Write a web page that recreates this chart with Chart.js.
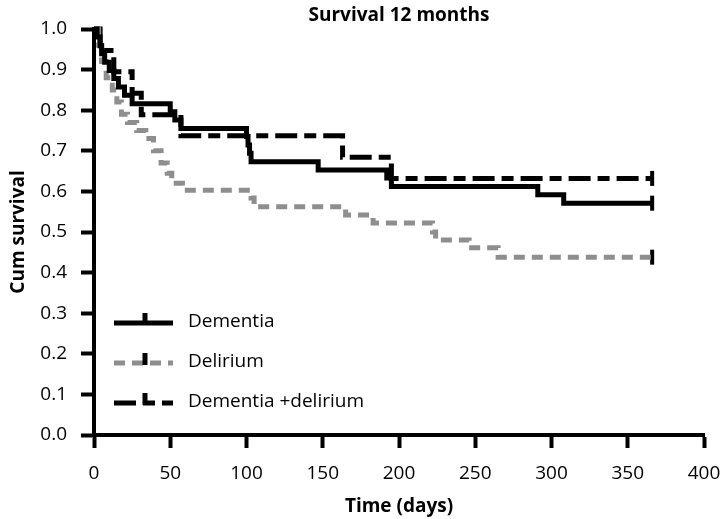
<!DOCTYPE html>
<html lang="en">
<head>
    <meta charset="UTF-8">
    <title>Survival 12 months</title>
    <script src="https://cdn.jsdelivr.net/npm/chart.js"></script>
    <style>
        html, body { margin: 0; padding: 0; background: #fff; }
        #chart-container { width: 721px; height: 519px; }
    </style>
</head>
<body>
    <div id="chart-container">
        <canvas id="survivalChart"></canvas>
    </div>

    <script>
        // Kaplan-Meier steps: each day is where the curve drops to the matching value
        const dementiaDays = [0, 2, 4, 5, 7, 10, 13, 16, 20, 25, 50, 53, 57, 100, 101, 102, 103, 147, 192, 195, 291, 308, 366];
        const dementiaSurv = [1.0, 0.980, 0.959, 0.939, 0.918, 0.898, 0.878, 0.857, 0.837, 0.816, 0.796, 0.776, 0.755, 0.735, 0.714, 0.694, 0.673, 0.653, 0.633, 0.612, 0.592, 0.571, 0.571];

        const deliriumDays = [0, 3, 5, 8, 12, 15, 18, 22, 28, 34, 39, 44, 48, 51, 58, 103, 105, 165, 183, 222, 224, 246, 265, 366];
        const deliriumSurv = [1.0, 0.96, 0.92, 0.88, 0.85, 0.82, 0.79, 0.77, 0.75, 0.73, 0.70, 0.67, 0.645, 0.62, 0.603, 0.584, 0.562, 0.542, 0.522, 0.50, 0.48, 0.461, 0.438, 0.438];

        const bothDays = [0, 4, 13, 25, 31, 57, 163, 195, 366];
        const bothSurv = [1.0, 0.947, 0.895, 0.842, 0.789, 0.737, 0.684, 0.632, 0.632];

        const seriesNames = ['Dementia', 'Delirium', 'Dementia +delirium'];
        const xTicks = [0, 50, 100, 150, 200, 250, 300, 350, 400];
        const yTicks = [0, 0.1, 0.2, 0.3, 0.4, 0.5, 0.6, 0.7, 0.8, 0.9, 1.0];
        const chartTitle = 'Survival 12 months';

        const FONT = '"Open Sans", "DejaVu Sans", sans-serif';

        function toPoints(days, surv) {
            return days.map((d, i) => ({ x: d, y: surv[i] }));
        }

        function curve(label, days, surv, color, dash) {
            return {
                label: label,
                data: toPoints(days, surv),
                stepped: 'before',
                borderColor: color,
                borderWidth: 5,
                borderDash: dash,
                borderCapStyle: 'butt',
                borderJoinStyle: 'miter',
                pointRadius: 0,
                fill: false,
                clip: false
            };
        }

        // censored mark at the end of each curve
        function censor(days, surv) {
            const last = days.length - 1;
            return {
                label: '',
                data: [{ x: days[last], y: surv[last] }],
                showLine: false,
                pointStyle: 'line',
                rotation: 90,
                pointRadius: 7.5,
                pointBorderWidth: 4,
                pointBorderColor: '#000',
                borderColor: '#000',
                clip: false
            };
        }

        // title centred over the plot area rather than the whole canvas
        const plotTitle = {
            id: 'plotTitle',
            afterDraw(chart) {
                const c = chart.ctx;
                const area = chart.chartArea;
                c.save();
                c.fillStyle = '#000';
                c.font = 'bold 19px ' + FONT;
                c.textAlign = 'center';
                c.textBaseline = 'middle';
                c.fillText(chartTitle, (area.left + area.right) / 2, 16);
                c.restore();
            }
        };

        // legend drawn inside the plot, bottom-left
        const insideLegend = {
            id: 'insideLegend',
            afterDatasetsDraw(chart) {
                const c = chart.ctx;
                const area = chart.chartArea;
                const x0 = area.left + 20;
                const x1 = area.left + 79;
                const xt = area.left + 51;
                const rows = [323, 363, 403];
                c.save();
                for (let i = 0; i < 3; i++) {
                    const ds = chart.data.datasets[i];
                    const y = rows[i];
                    c.beginPath();
                    c.setLineDash(ds.borderDash || []);
                    c.lineWidth = 5;
                    c.strokeStyle = ds.borderColor;
                    c.lineCap = 'butt';
                    c.moveTo(x0, y);
                    c.lineTo(x1, y);
                    c.stroke();
                    c.setLineDash([]);
                    c.beginPath();
                    c.lineWidth = 5;
                    c.strokeStyle = '#000';
                    c.moveTo(xt, y - 10);
                    c.lineTo(xt, y + 2);
                    c.stroke();
                    c.fillStyle = '#000';
                    c.font = '19px ' + FONT;
                    c.textBaseline = 'middle';
                    c.textAlign = 'left';
                    c.fillText(seriesNames[i], area.left + 94, y - 1);
                }
                c.restore();
            }
        };

        const ctx = document.getElementById('survivalChart').getContext('2d');
        new Chart(ctx, {
            type: 'line',
            data: {
                datasets: [
                    curve(seriesNames[0], dementiaDays, dementiaSurv, '#000', []),
                    curve(seriesNames[1], deliriumDays, deliriumSurv, '#8e8e8e', [11, 7]),
                    curve(seriesNames[2], bothDays, bothSurv, '#000', [22, 7, 12, 7]),
                    censor(dementiaDays, dementiaSurv),
                    censor(deliriumDays, deliriumSurv),
                    censor(bothDays, bothSurv)
                ]
            },
            options: {
                responsive: true,
                maintainAspectRatio: false,
                animation: false,
                layout: { padding: { left: 0, right: 0, top: 29, bottom: 0 } },
                plugins: {
                    legend: { display: false },
                    tooltip: { enabled: false },
                    title: { display: false }
                },
                scales: {
                    x: {
                        type: 'linear',
                        min: 0,
                        max: 400,
                        afterBuildTicks: (scale) => { scale.ticks = xTicks.map(v => ({ value: v })); },
                        afterFit: (scale) => {
                            scale.height = 84;
                            scale.paddingRight = 17;
                        },
                        grid: { drawOnChartArea: false, drawTicks: true, tickLength: 13, tickWidth: 4, tickColor: '#000' },
                        border: { display: true, color: '#000', width: 4 },
                        ticks: {
                            color: '#000',
                            padding: 14,
                            maxRotation: 0,
                            font: { family: FONT, size: 19 }
                        },
                        title: {
                            display: true,
                            text: 'Time (days)',
                            color: '#000',
                            font: { family: FONT, size: 19, weight: 'bold' },
                            padding: { top: 0, bottom: 1 }
                        }
                    },
                    y: {
                        min: 0,
                        max: 1,
                        afterBuildTicks: (scale) => { scale.ticks = yTicks.map(v => ({ value: v })); },
                        afterFit: (scale) => { scale.width = 94; },
                        grid: { drawOnChartArea: false, drawTicks: true, tickLength: 13, tickWidth: 4, tickColor: '#000' },
                        border: { display: true, color: '#000', width: 4 },
                        ticks: {
                            color: '#000',
                            padding: 14,
                            font: { family: FONT, size: 19 },
                            callback: (v) => Number(v).toFixed(1)
                        },
                        title: {
                            display: true,
                            text: 'Cum survival',
                            color: '#000',
                            font: { family: FONT, size: 19, weight: 'bold' },
                            padding: { top: 7, bottom: 0 }
                        }
                    }
                }
            },
            plugins: [plotTitle, insideLegend]
        });
    </script>
</body>
</html>
